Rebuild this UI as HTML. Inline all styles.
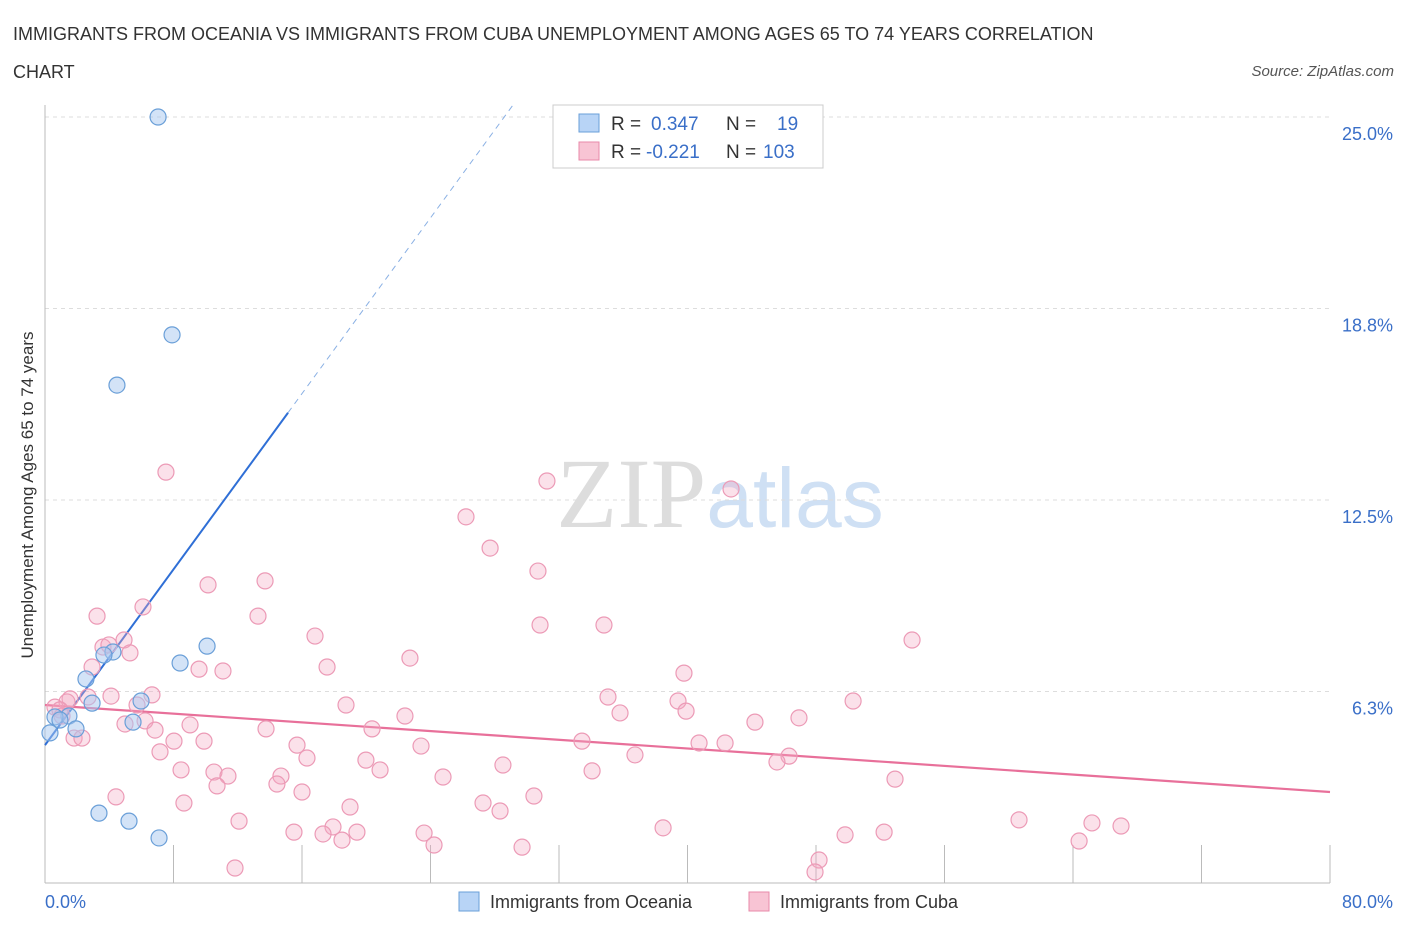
<!DOCTYPE html>
<html><head><meta charset="utf-8"><style>
body{margin:0;background:#fff;font-family:"Liberation Sans",sans-serif;}
svg text{font-family:"Liberation Sans",sans-serif;}
</style></head><body>
<svg id="chart" width="1406" height="930" xmlns="http://www.w3.org/2000/svg">
<text x="13" y="40" font-size="18" fill="#333">IMMIGRANTS FROM OCEANIA VS IMMIGRANTS FROM CUBA UNEMPLOYMENT AMONG AGES 65 TO 74 YEARS CORRELATION</text>
<text x="13" y="78" font-size="18" fill="#333">CHART</text>
<text x="1394" y="76" font-size="15" fill="#555" font-style="italic" text-anchor="end">Source: ZipAtlas.com</text>
<text x="720" y="527" font-size="100" text-anchor="middle"><tspan fill="#ddd" font-family="Liberation Serif">ZIP</tspan><tspan fill="#cfe0f4" font-size="84">atlas</tspan></text>
<g id="grid"></g>
<g id="axes"></g>
<g id="trends"></g>
<g id="points"></g>
<text transform="translate(33,495) rotate(-90)" font-size="17" fill="#333" text-anchor="middle">Unemployment Among Ages 65 to 74 years</text>
<g>
<rect x="553" y="105" width="270" height="63" fill="#fff" stroke="#ccc"/>
<rect x="579" y="114" width="20" height="18" fill="#b8d4f6" stroke="#6a9fd8"/>
<text x="611" y="130" font-size="19" fill="#333">R = </text><text x="651" y="130" font-size="19" fill="#3a6fc8">0.347</text>
<text x="726" y="130" font-size="19" fill="#333">N = </text><text x="777" y="130" font-size="19" fill="#3a6fc8">19</text>
<rect x="579" y="142" width="20" height="18" fill="#f8c4d4" stroke="#e88aaa"/>
<text x="611" y="158" font-size="19" fill="#333">R = </text><text x="646" y="158" font-size="19" fill="#3a6fc8">-0.221</text>
<text x="726" y="158" font-size="19" fill="#333">N = </text><text x="763" y="158" font-size="19" fill="#3a6fc8">103</text>
</g>
<g>
<rect x="459" y="892" width="20" height="19" fill="#b8d4f6" stroke="#6a9fd8"/>
<text x="490" y="908" font-size="18" fill="#333">Immigrants from Oceania</text>
<rect x="749" y="892" width="20" height="19" fill="#f8c4d4" stroke="#e88aaa"/>
<text x="780" y="908" font-size="18" fill="#333">Immigrants from Cuba</text>
</g>
</svg>
<script>
const yTicks=[25.0,18.8,12.5,6.3];
const yTickVals=[25,18.75,12.5,6.25];
const xTickLabels=["0.0%","80.0%"];
const oceaniaX=[7.04,7.91,4.48,10.09,8.41,4.23,3.67,2.55,2.93,5.98,5.48,1.49,0.62,0.93,1.93,0.31,3.36,5.23,7.10];
const oceaniaY=[25.0,17.89,16.25,7.73,7.18,7.54,7.44,6.66,5.87,5.94,5.25,5.45,5.42,5.32,5.03,4.90,2.28,2.02,1.47];
const cubaX=[7.53,31.25,42.71,26.21,27.71,30.69,13.70,10.15,6.10,3.24,13.26,30.82,34.80,53.98,16.81,4.92,3.61,3.98,5.29,17.56,22.72,2.93,9.59,11.08,39.78,6.66,4.11,1.56,2.68,1.37,35.05,18.74,50.31,39.41,39.91,35.80,22.41,5.73,6.23,9.03,0.62,0.93,1.06,1.81,2.30,4.98,6.85,13.76,20.36,44.20,46.94,33.43,40.72,42.34,8.03,9.90,15.69,23.41,7.16,16.31,19.98,36.73,46.32,45.57,8.47,10.52,20.86,11.39,24.78,28.51,34.06,14.69,10.71,14.44,16.00,52.92,4.42,8.65,18.99,27.27,30.44,28.33,12.08,60.64,65.18,66.99,38.48,52.24,49.81,17.93,15.50,17.31,19.42,23.60,18.49,24.22,64.38,29.70,11.83,48.19,47.94];
const cubaY=[13.41,13.12,12.86,11.95,10.93,10.18,9.86,9.73,9.01,8.71,8.71,8.42,8.42,7.93,8.06,7.93,7.70,7.77,7.51,7.05,7.34,7.05,6.98,6.92,6.85,6.14,6.10,6.01,6.07,5.91,6.07,5.81,5.94,5.94,5.61,5.55,5.45,5.81,5.29,5.16,5.74,5.65,5.45,4.73,4.73,5.19,4.99,5.03,5.03,5.25,5.39,4.63,4.57,4.57,4.63,4.63,4.50,4.47,4.28,4.08,4.01,4.18,4.14,3.95,3.69,3.62,3.69,3.49,3.46,3.85,3.66,3.49,3.17,3.23,2.97,3.39,2.81,2.61,2.48,2.61,2.84,2.35,2.02,2.06,1.96,1.86,1.80,1.66,1.57,1.83,1.66,1.60,1.66,1.63,1.40,1.24,1.37,1.17,0.49,0.75,0.36];
const blueTrend=[4.50,0.717,15.13,29.1];
const pinkTrend=[5.81,2.97];
const NS="http://www.w3.org/2000/svg";
const X=v=>45+v*1285/80, Y=v=>883-v*30.64;
function mk(t,a,p){const e=document.createElementNS(NS,t);for(const k in a)e.setAttribute(k,a[k]);p.appendChild(e);return e;}
const grid=document.getElementById('grid'),axes=document.getElementById('axes');
yTickVals.forEach((v,i)=>{
 const l=mk('line',{x1:45,x2:1330,y1:Y(v),y2:Y(v),stroke:'#ddd','stroke-dasharray':'4,4'},grid);
 
 
 const t=mk('text',{x:1393,y:Y(v)+23,'font-size':18,fill:'#3a6fc8','text-anchor':'end'},axes);
 t.textContent=yTicks[i].toFixed(1)+'%';
 
 
});
const ax=mk('line',{x1:45,x2:1330,y1:883,y2:883,stroke:'#bbb'},axes);


const ay=mk('line',{x1:45,x2:45,y1:105,y2:883,stroke:'#bbb'},axes);


for(let v=8;v<=80;v+=8){const t=mk('line',{x1:X(v),x2:X(v),y1:845,y2:883,stroke:'#bbb'},axes);
 
 }
const xl0=mk('text',{x:45,y:908,'font-size':18,fill:'#3a6fc8'},axes);xl0.textContent=xTickLabels[0];


const xl1=mk('text',{x:1393,y:908,'font-size':18,fill:'#3a6fc8','text-anchor':'end'},axes);xl1.textContent=xTickLabels[1];


const pts=document.getElementById('points');
cubaX.forEach((x,i)=>{const c=mk('circle',{cx:X(x),cy:Y(cubaY[i]),r:8,fill:'rgba(244,170,196,0.35)',stroke:'#ec9ab6','stroke-width':1.2},pts);
 
 });
oceaniaX.forEach((x,i)=>{const c=mk('circle',{cx:X(x),cy:Y(oceaniaY[i]),r:8,fill:'rgba(168,200,240,0.5)',stroke:'#6a9fd8','stroke-width':1.2},pts);
 
 });
const tr=document.getElementById('trends');
const bf=x=>blueTrend[0]+blueTrend[1]*x;
const b1=mk('line',{x1:X(0),y1:Y(bf(0)),x2:X(blueTrend[2]),y2:Y(bf(blueTrend[2])),stroke:'#2f6fd6','stroke-width':2},tr);


const b2=mk('line',{x1:X(blueTrend[2]),y1:Y(bf(blueTrend[2])),x2:X(blueTrend[3]),y2:Y(bf(blueTrend[3])),stroke:'#8ab0e4','stroke-width':1,'stroke-dasharray':'6,5'},tr);


const p1=mk('line',{x1:X(0),y1:Y(pinkTrend[0]),x2:X(80),y2:Y(pinkTrend[1]),stroke:'#e8709a','stroke-width':2.2},tr);


</script>
</body></html>
